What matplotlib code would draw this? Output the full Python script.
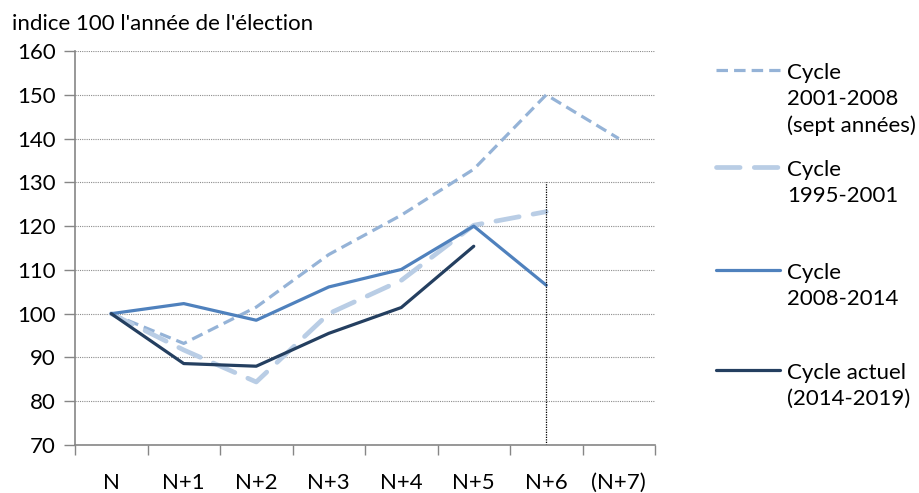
import matplotlib
matplotlib.use("Agg")
import matplotlib.pyplot as plt
from matplotlib.lines import Line2D

plt.rcParams["font.family"] = ["Lato", "DejaVu Sans"]

# données (indice 100 l'année de l'élection)
categories = ["N", "N+1", "N+2", "N+3", "N+4", "N+5", "N+6", "(N+7)"]
cycle_2001_2008 = [100, 93.2, 101.5, 113.5, 122.5, 133, 150, 140]
cycle_1995_2001 = [100, 91.7, 84.4, 100, 107.6, 120.2, 123.3]
cycle_2008_2014 = [100, 102.3, 98.5, 106.1, 110.1, 120, 106.5]
cycle_actuel = [100, 88.6, 88.0, 95.5, 101.4, 115.4]

legend_labels = [
    "Cycle\n2001-2008\n(sept années)",
    "Cycle\n1995-2001",
    "Cycle\n2008-2014",
    "Cycle actuel\n(2014-2019)",
]

# styles
c_2001 = "#95B3D7"
c_1995 = "#B9CDE5"
c_2008 = "#4F81BD"
c_actuel = "#243F60"
styles = [
    dict(color=c_2001, lw=2.3, dashes=(3.6, 1.9), dash_capstyle="butt"),
    dict(color=c_1995, lw=3.4, dashes=(5.0, 3.0), dash_capstyle="round"),
    dict(color=c_2008, lw=2.3),
    dict(color=c_actuel, lw=2.3),
]
series = [cycle_2001_2008, cycle_1995_2001, cycle_2008_2014, cycle_actuel]

FS = 16

fig = plt.figure(figsize=(9.19, 4.93), dpi=100)
ax = fig.add_axes([75 / 919, 1 - 445 / 493, 580 / 919, 394 / 493])

for vals, st in zip(series, styles):
    ax.plot(range(len(vals)), vals, solid_capstyle="round", **st)

# trait vertical pointillé à N+6
ax.plot([6, 6], [70, 130], color="black", lw=0.9, ls=(0, (1, 1)))

ax.set_xlim(-0.5, 7.5)
ax.set_ylim(70, 160)
ax.set_yticks(range(70, 161, 10))
ax.tick_params(axis="y", labelsize=FS, length=8, width=1, color="#868686", pad=6)
ax.set_xticks(range(len(categories)))
ax.set_xticklabels(categories, fontsize=FS)
ax.tick_params(axis="x", length=0, pad=20)
ax.set_xticks([i - 0.5 for i in range(len(categories) + 1)], minor=True)
ax.tick_params(axis="x", which="minor", length=7, width=1, color="#868686")

ax.grid(axis="y", color="#8C8C8C", lw=0.8, ls=(0, (1, 1)))
ax.set_axisbelow(True)
for s in ["top", "right"]:
    ax.spines[s].set_visible(False)
for s in ["left", "bottom"]:
    ax.spines[s].set_color("#868686")
    ax.spines[s].set_linewidth(1.2)

fig.text(12 / 919, 1 - 24 / 493, "indice 100 l'année de l'élection",
         fontsize=FS, va="center", ha="left")

# légende à droite
legend_y = [70, 167, 270, 370]
for lab, st, y in zip(legend_labels, styles, legend_y):
    yf = 1 - y / 493
    fig.add_artist(Line2D([716 / 919, 780 / 919], [yf, yf], transform=fig.transFigure,
                          solid_capstyle="round", **st))
    fig.text(787 / 919, 1 - (y - 7) / 493, lab, fontsize=FS, va="top", ha="left",
             linespacing=1.38)

fig.savefig("out.png", dpi=100)
